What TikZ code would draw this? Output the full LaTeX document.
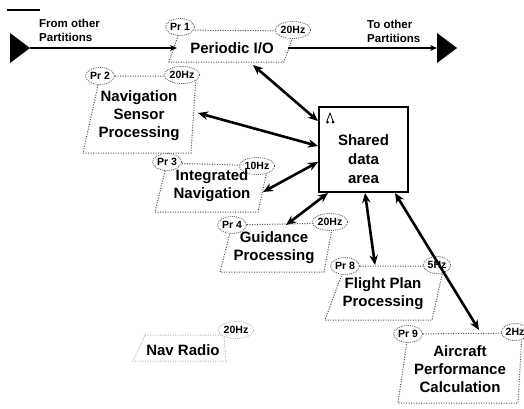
\documentclass[tikz,border=0pt]{standalone}
\usepackage{fontspec}
\setmainfont{Liberation Sans}
\usetikzlibrary{arrows.meta,shapes.geometric}
\begin{document}
\begin{tikzpicture}[x=1pt,y=-1pt,
  lbl/.style={font=\bfseries\fontsize{15}{18}\selectfont, align=center, inner sep=0pt},
  small/.style={font=\bfseries\fontsize{11.5}{14}\selectfont, align=left, inner sep=0pt, anchor=west},
  tag/.style={ellipse, draw=gray!70!black, dash pattern=on 0.9pt off 1pt, line width=0.8pt, fill=white, font=\bfseries\fontsize{10.5}{11}\selectfont, inner sep=0.3pt, minimum height=17pt},
  pbox/.style={draw=gray!60!black, dash pattern=on 1pt off 1.5pt, line width=1pt},
  dbl/.style={line width=2.6pt, {Stealth[length=10pt,width=8.5pt]}-{Stealth[length=10pt,width=8.5pt]}},
  flow/.style={line width=1.8pt, -{Stealth[length=7pt,width=6pt]}},
  tri/.style={fill=black},
]
\useasboundingbox (0,0) rectangle (524,408);

% top-left short line
\coordinate (tl1) at (7,10);
\coordinate (tl2) at (40,10);
\draw[line width=1.6pt] (tl1) -- (tl2);

% parallelogram boxes
\draw[pbox] (180,30) -- (295,31) -- (284,62) -- (169,62) -- cycle;
\draw[pbox] (100,76) -- (196,76) -- (191,153) -- (83,153) -- cycle;
\draw[pbox] (167,163) -- (268,166) -- (258,212) -- (155,212) -- cycle;
\draw[pbox] (232,225) -- (333,223) -- (324,272) -- (220,272) -- cycle;
\draw[pbox] (345,266) -- (444,266) -- (432,320) -- (325,320) -- cycle;
\draw[pbox] (408,334) -- (522,333) -- (518,403) -- (398,403) -- cycle;
\draw[pbox, draw=gray!60] (145,335) -- (224,335) -- (226,361) -- (133,361) -- cycle;

% tags
\node[tag] (t1a) at (180,27) {Pr 1};
\node[tag] (t1b) at (293,30) {20Hz};
\node[tag] (t2a) at (100,76) {Pr 2};
\node[tag] (t2b) at (182,75) {20Hz};
\node[tag] (t3a) at (167,162) {Pr 3};
\node[tag] (t3b) at (257,166) {10Hz};
\node[tag] (t4a) at (232,225) {Pr 4};
\node[tag] (t4b) at (330,222) {20Hz};
\node[tag] (t8a) at (345,266) {Pr 8};
\node[tag] (t8b) at (437,265) {5Hz};
\node[tag] (t9a) at (408,334) {Pr 9};
\node[tag] (t9b) at (515,332) {2Hz};
\node[tag, draw=gray!60] (tnr) at (236,330) {20Hz};

% texts
\node[small] (from) at (39,30) {From other\\Partitions};
\node[small] (to) at (367,31) {To other\\Partitions};
\node[lbl] (pio) at (232,48) {Periodic I/O};
\node[lbl] (nsp) at (139,116) {Navigation\\Sensor\\Processing};
\node[lbl] (inav) at (212,186) {Integrated\\Navigation};
\node[lbl] (gp) at (274,248) {Guidance\\Processing};
\node[lbl] (fpp) at (383,294) {Flight Plan\\Processing};
\node[lbl] (apc) at (460,369) {Aircraft\\Performance\\Calculation};
\node[lbl] (nr) at (183,350) {Nav Radio};

% shared data area
\node[draw, line width=2.6pt, minimum width=89pt, minimum height=85pt, inner sep=0pt] (sda) at (363.5,149.5) {};
\node[lbl, font=\bfseries\fontsize{15}{19}\selectfont] (sdt) at (363.5,159) {Shared\\data\\area};
% small icon
\draw[line width=0.8pt] (327,121) -- (330,113) -- (333,121);
\fill (327.5,122) circle (1.5pt) (333,122) circle (1.5pt);

% triangles
\coordinate (lt) at (30,48);
\coordinate (rt) at (437,48);
\fill[tri] (10,33) -- (10,63) -- (lt) -- cycle;
\fill[tri] (rt) ++(0,-15) -- ++(0,30) -- ++(20,-15) -- cycle;

% flow lines
\coordinate (pin) at (177,48);
\coordinate (pout) at (288,48);
\draw[flow] (lt) -- (pin);
\draw[flow] (pout) -- (rt);

% double arrows to shared data area
\coordinate (a1) at (253,65);  \coordinate (b1) at (318,121);
\coordinate (a2) at (198,113); \coordinate (b2) at (318,146);
\coordinate (a3) at (263,192); \coordinate (b3) at (318,162);
\coordinate (a4) at (286,225); \coordinate (b4) at (328,193);
\coordinate (a5) at (375,265); \coordinate (b5) at (365,193);
\coordinate (a6) at (479,330); \coordinate (b6) at (395,193);
\draw[dbl] (a1) -- (b1);
\draw[dbl] (a2) -- (b2);
\draw[dbl] (a3) -- (b3);
\draw[dbl] (a4) -- (b4);
\draw[dbl] (a5) -- (b5);
\draw[dbl] (a6) -- (b6);
\end{tikzpicture}
\end{document}
